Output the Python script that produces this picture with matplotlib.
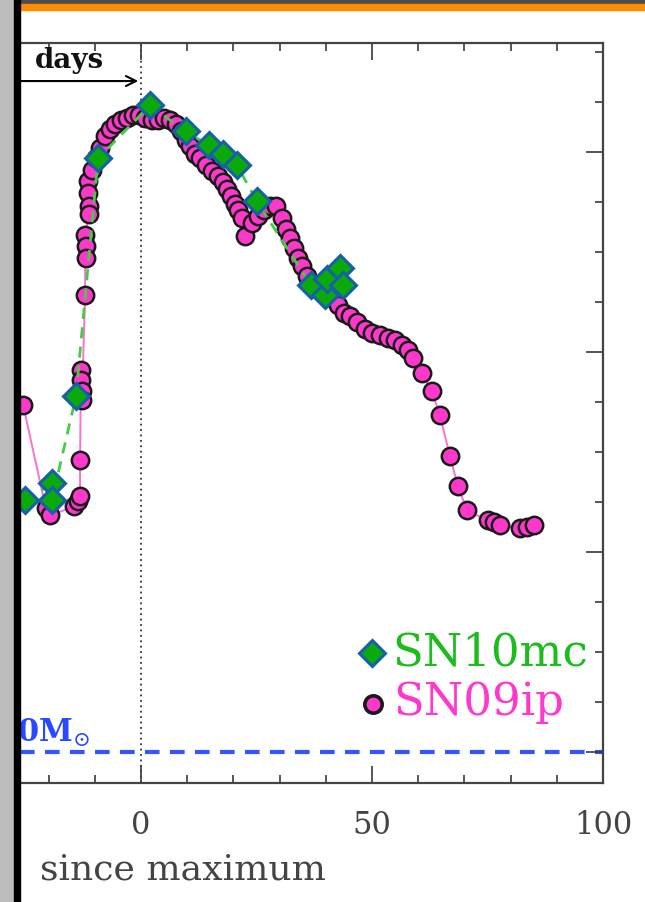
import matplotlib.pyplot as plt
from matplotlib.patches import Rectangle
from matplotlib.ticker import MultipleLocator

plt.rcParams['font.family'] = ['DejaVu Serif']
plt.rcParams['mathtext.fontset'] = 'dejavuserif'

# SN 2009ip light curve (days since max, absolute mag)
ip_day = [-25.5, -20.6, -19.7, -14.5, -13.6, -13.2, -13.2, -13.0, -13.0, -12.8, -12.8,
          -12.1, -12.1, -11.9, -11.9, -11.5, -11.5, -11.3, -11.3, -10.6, -9.7, -8.9,
          -7.8, -6.7, -5.6, -4.3, -3.0, -1.7, -0.4, 0.9, 2.4, 3.7, 5.0, 6.3, 7.6,
          8.7, 9.7, 10.6, 11.7, 12.8, 14.1, 15.4, 16.7, 17.8, 18.6, 19.5, 20.4,
          21.0, 21.9, 22.5, 24.0, 25.3, 26.6, 27.9, 29.2, 30.5, 31.4, 32.3, 33.1,
          34.0, 34.9, 35.9, 37.7, 39.8, 41.3, 42.6, 43.9, 45.2, 46.8, 48.5, 50.0,
          51.7, 53.5, 55.0, 56.5, 57.8, 58.9, 60.8, 63.0, 64.7, 66.9, 68.6, 70.6,
          75.1, 76.4, 77.7, 82.0, 83.6, 85.1]
ip_mag = [-15.47, -14.44, -14.37, -14.46, -14.51, -14.56, -14.92, -15.82, -15.72, -15.61, -15.52,
          -16.57, -17.17, -17.06, -16.94, -17.71, -17.59, -17.46, -17.38, -17.82, -17.94, -18.04,
          -18.16, -18.23, -18.28, -18.32, -18.34, -18.37, -18.37, -18.34, -18.32, -18.33, -18.34, -18.33, -18.28,
          -18.21, -18.12, -18.06, -17.99, -17.94, -17.87, -17.81, -17.76, -17.70, -17.63, -17.56, -17.49,
          -17.42, -17.34, -17.16, -17.29, -17.36, -17.42, -17.46, -17.46, -17.34, -17.24, -17.14, -17.04,
          -16.94, -16.86, -16.76, -16.66, -16.59, -16.54, -16.47, -16.40, -16.36, -16.31, -16.24, -16.19,
          -16.17, -16.15, -16.12, -16.07, -16.02, -15.94, -15.79, -15.61, -15.37, -14.96, -14.66, -14.42,
          -14.32, -14.30, -14.27, -14.24, -14.25, -14.27]

# SN 2010mc light curve
mc_day = [-25.1, -19.3, -19.3, -14.1, -9.3, 1.9, 9.7, 14.7, 17.7, 20.8, 25.1,
          36.8, 39.8, 40.3, 43.1, 43.7]
mc_mag = [-14.52, -14.69, -14.52, -15.56, -17.94, -18.47, -18.21, -18.07, -17.98, -17.87, -17.51,
          -16.67, -16.57, -16.73, -16.84, -16.67]

mass_line = -12.0
pink = '#ff38cc'
dia = dict(marker='D', ms=13, mfc='#0aaa0a', mec='#1560a8', mew=2.2, ls='none')
circ = dict(marker='o', ms=12.5, mfc=pink, mec='#1a1a1a', mew=1.8, ls='none')

fig = plt.figure(figsize=(6.45, 9.03), dpi=100)
ax = fig.add_axes([20/645, 1 - 784/903, 583/645, 740/903])

ax.plot(ip_day, ip_mag, '-', color='#ff70d0', lw=1.4, zorder=2)
ax.plot(ip_day, ip_mag, zorder=3, **circ)
ax.plot(mc_day, mc_mag, '--', color='#44cc44', lw=2, dashes=(4, 3), zorder=4)
ax.plot(mc_day, mc_mag, zorder=5, **dia)

ax.axvline(0, color='#333333', ls=(0, (1, 2)), lw=1.3, zorder=1)
ax.axhline(mass_line, color='#3355ff', ls=(0, (3.5, 2.5)), lw=3, zorder=1)
ax.text(-26.9, mass_line - 0.12, r'0M$_{\odot}$', color='#2a48ff', fontsize=22,
        fontweight='bold', ha='left', va='baseline', clip_on=True)

# arrow up to maximum
ax.annotate('', xy=(0, 0.9486), xytext=(-27, 0.9486),
            xycoords=ax.get_xaxis_transform(),
            arrowprops=dict(arrowstyle='->', color='black', lw=1.5, mutation_scale=18))
ax.text(-22.9, 0.967, 'days', transform=ax.get_xaxis_transform(),
        fontsize=20, fontweight='bold', color='#111111', va='baseline')

# legend
ax.plot([0.6038], [0.1757], transform=ax.transAxes, clip_on=False, **dia)
ax.plot([0.6055], [0.1068], transform=ax.transAxes, clip_on=False,
        **dict(circ, mew=2.6))
ax.text(0.638, 0.1608, 'SN10mc', color='#1cbc1c', fontsize=32.5, transform=ax.transAxes,
        va='baseline')
ax.text(0.641, 0.0932, 'SN09ip', color=pink, fontsize=32.5, transform=ax.transAxes,
        va='baseline')

ax.set_xlim(-26.2, 100)
ax.set_ylim(-11.695, -19.095)

ax.xaxis.set_major_locator(MultipleLocator(50))
ax.xaxis.set_minor_locator(MultipleLocator(10))
ax.yaxis.set_major_locator(MultipleLocator(2))
ax.yaxis.set_minor_locator(MultipleLocator(0.5))
ax.tick_params(axis='x', which='both', direction='in', top=True, bottom=True,
               colors='#3a3a3a', labelcolor='#444444', labelsize=22, pad=19)
ax.tick_params(axis='y', which='both', direction='in', left=False, right=True,
               labelleft=False, labelright=False, colors='#3a3a3a')
ax.tick_params(which='major', length=12, width=1.2)
ax.tick_params(which='minor', length=6, width=1.2)
ax.spines['left'].set_visible(False)
for s in ['top', 'bottom', 'right']:
    ax.spines[s].set_color('#444444')
    ax.spines[s].set_linewidth(1.6)

fig.text(40/645, 1 - 880/903, 'since maximum', fontsize=26, color='#444444',
         ha='left', va='baseline')

# slide frame
fig.add_artist(Rectangle((20/645, 1 - 5/903), 1, 5/903, transform=fig.transFigure,
                         color='#4d4d4d', zorder=20))
fig.add_artist(Rectangle((20/645, 1 - 11/903), 1, 6/903, transform=fig.transFigure,
                         color='#ff8c00', zorder=20))
fig.add_artist(Rectangle((0, 0), 14/645, 1, transform=fig.transFigure,
                         color='#bdbdbd', zorder=20))
fig.add_artist(Rectangle((14/645, 0), 6/645, 1, transform=fig.transFigure,
                         color='black', zorder=21))

fig.savefig('out.png', dpi=100)
